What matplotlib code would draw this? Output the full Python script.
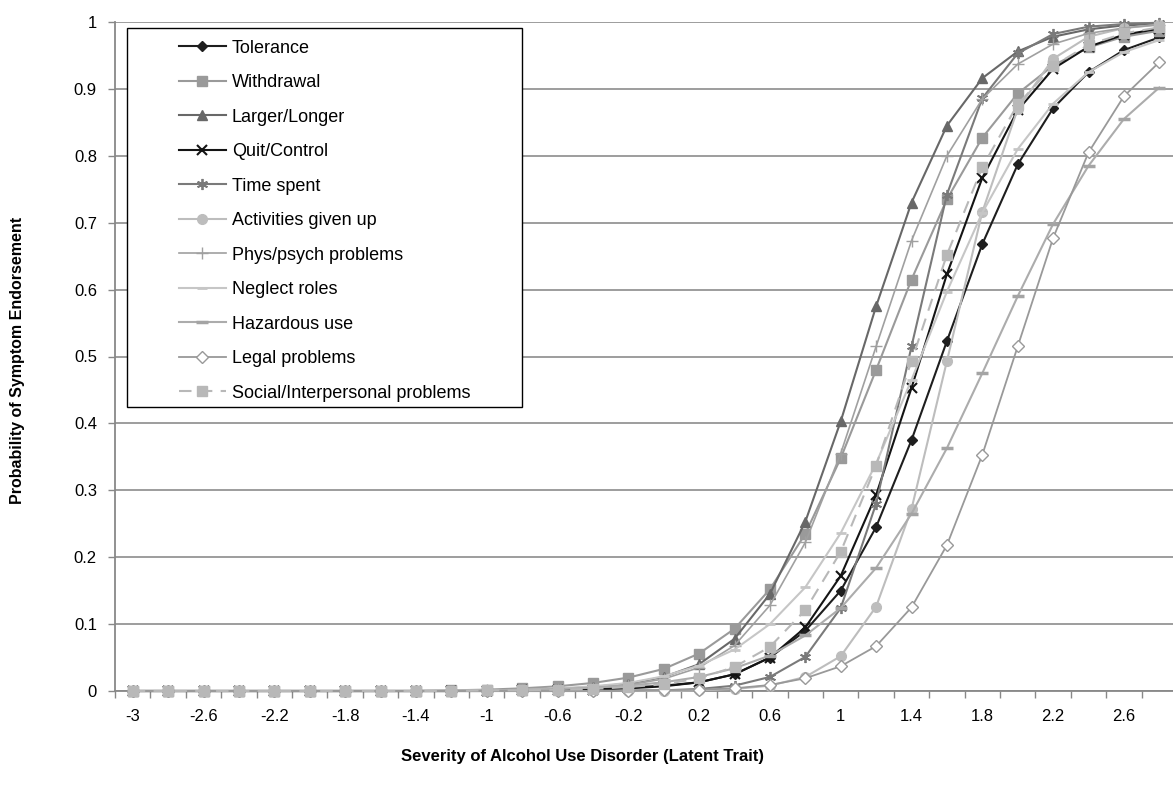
import matplotlib
matplotlib.use("Agg")
import matplotlib.pyplot as plt
from matplotlib.patches import Rectangle
import numpy as np

plt.rcParams['font.family'] = ['Liberation Sans', 'DejaVu Sans']

x_values = [-3.0, -2.8, -2.6, -2.4, -2.2, -2.0, -1.8, -1.6, -1.4, -1.2,
            -1.0, -0.8, -0.6, -0.4, -0.2, 0.0, 0.2, 0.4, 0.6, 0.8,
            1.0, 1.2, 1.4, 1.6, 1.8, 2.0, 2.2, 2.4, 2.6, 2.8]

tolerance = [0, 0, 0, 0, 0, 0, 0, 0, 0, 0,
             0.001, 0.001, 0.002, 0.003, 0.005, 0.008, 0.013, 0.025, 0.05, 0.09,
             0.15, 0.245, 0.375, 0.523, 0.668, 0.787, 0.871, 0.925, 0.958, 0.977]
withdrawal = [0, 0, 0, 0, 0, 0, 0, 0, 0, 0.001,
              0.002, 0.004, 0.007, 0.012, 0.02, 0.033, 0.056, 0.093, 0.152, 0.235,
              0.348, 0.48, 0.615, 0.735, 0.827, 0.893, 0.935, 0.962, 0.978, 0.987]
larger_longer = [0, 0, 0, 0, 0, 0, 0, 0, 0, 0,
                 0.001, 0.002, 0.003, 0.006, 0.011, 0.021, 0.04, 0.078, 0.145, 0.253,
                 0.403, 0.575, 0.73, 0.845, 0.916, 0.956, 0.978, 0.989, 0.995, 0.997]
quit_control = [0, 0, 0, 0, 0, 0, 0, 0, 0, 0,
                0, 0.001, 0.001, 0.002, 0.004, 0.007, 0.013, 0.025, 0.05, 0.095,
                0.172, 0.293, 0.453, 0.623, 0.767, 0.868, 0.93, 0.963, 0.981, 0.99]
time_spent = [0, 0, 0, 0, 0, 0, 0, 0, 0, 0,
              0, 0, 0, 0, 0.001, 0.001, 0.003, 0.008, 0.021, 0.051,
              0.124, 0.28, 0.515, 0.742, 0.886, 0.953, 0.982, 0.993, 0.997, 0.999]
activities = [0, 0, 0, 0, 0, 0, 0, 0, 0, 0,
              0, 0, 0, 0, 0, 0, 0.001, 0.003, 0.008, 0.021,
              0.052, 0.126, 0.272, 0.493, 0.716, 0.87, 0.945, 0.978, 0.991, 0.996]
phys_psych = [0, 0, 0, 0, 0, 0, 0, 0, 0, 0,
              0.001, 0.002, 0.003, 0.005, 0.009, 0.018, 0.035, 0.068, 0.128, 0.222,
              0.355, 0.515, 0.673, 0.8, 0.885, 0.937, 0.967, 0.983, 0.991, 0.996]
neglect_roles = [0, 0, 0, 0, 0, 0, 0, 0, 0, 0.001,
                 0.001, 0.002, 0.004, 0.007, 0.012, 0.022, 0.038, 0.062, 0.1, 0.155,
                 0.236, 0.34, 0.465, 0.597, 0.715, 0.81, 0.878, 0.925, 0.955, 0.973]
hazardous_use = [0, 0, 0, 0, 0, 0, 0, 0, 0, 0,
                 0.001, 0.002, 0.003, 0.005, 0.008, 0.013, 0.021, 0.034, 0.053, 0.083,
                 0.124, 0.184, 0.265, 0.363, 0.475, 0.59, 0.698, 0.785, 0.855, 0.902]
legal_problems = [0, 0, 0, 0, 0, 0, 0, 0, 0, 0,
                  0, 0, 0, 0, 0, 0.001, 0.002, 0.004, 0.009, 0.019,
                  0.037, 0.067, 0.125, 0.218, 0.353, 0.515, 0.677, 0.805, 0.889, 0.94]
social = [0, 0, 0, 0, 0, 0, 0, 0, 0, 0,
          0.001, 0.001, 0.002, 0.003, 0.006, 0.01, 0.019, 0.036, 0.066, 0.121,
          0.208, 0.337, 0.493, 0.652, 0.783, 0.877, 0.934, 0.966, 0.983, 0.992]

series_names = ["Tolerance", "Withdrawal", "Larger/Longer", "Quit/Control", "Time spent",
                "Activities given up", "Phys/psych problems", "Neglect roles",
                "Hazardous use", "Legal problems", "Social/Interpersonal problems"]
series_values = [tolerance, withdrawal, larger_longer, quit_control, time_spent,
                 activities, phys_psych, neglect_roles, hazardous_use, legal_problems, social]

y_ticks = [0, 0.1, 0.2, 0.3, 0.4, 0.5, 0.6, 0.7, 0.8, 0.9, 1]
y_tick_labels = ["0", "0.1", "0.2", "0.3", "0.4", "0.5", "0.6", "0.7", "0.8", "0.9", "1"]

styles = [
    dict(color="#1e1e1e", marker="D", ms=5, mfc="#1e1e1e", mec="#1e1e1e", ls="-", lw=1.5),
    dict(color="#9a9a9a", marker="s", ms=6.5, mfc="#9a9a9a", mec="#9a9a9a", ls="-", lw=1.5),
    dict(color="#686868", marker="^", ms=7, mfc="#686868", mec="#686868", ls="-", lw=1.5),
    dict(color="#141414", marker="x", ms=7, mfc="#141414", mec="#141414", mew=1.5, ls="-", lw=1.5),
    dict(color="#7a7a7a", marker=(6, 2, 0), ms=8, mec="#7a7a7a", mew=1.3, ls="-", lw=1.5),
    dict(color="#bdbdbd", marker="o", ms=7, mfc="#bdbdbd", mec="#bdbdbd", ls="-", lw=1.5),
    dict(color="#a0a0a0", marker="+", ms=8, mec="#a0a0a0", mew=1.0, ls="-", lw=1.2),
    dict(color="#c6c6c6", marker="_", ms=7, mec="#c6c6c6", mew=2.0, ls="-", lw=1.5),
    dict(color="#acacac", marker="_", ms=8, mec="#a4a4a4", mew=2.5, ls="-", lw=1.5),
    dict(color="#999999", marker="D", ms=6, mfc="white", mec="#999999", mew=1.0, ls="-", lw=1.3),
    dict(color="#b8b8b8", marker="s", ms=7, mfc="#b8b8b8", mec="#b8b8b8", ls=(0, (6, 4)), lw=1.5),
]

W, H = 1173, 792
fig = plt.figure(figsize=(W / 100, H / 100), dpi=100)
ax = fig.add_axes([115 / W, 101 / H, 1062 / W, 669 / H])

xi = np.arange(len(x_values))
handles = []
for name, vals, st in zip(series_names, series_values, styles):
    h, = ax.plot(xi, vals, label=name, clip_on=False, zorder=3, **st)
    handles.append(h)

ax.set_xlim(-0.5, len(x_values) - 0.5)
ax.set_ylim(0, 1)
ax.set_yticks(y_ticks)
ax.set_yticklabels(y_tick_labels)
major = xi[::2]
ax.set_xticks(major)
ax.set_xticklabels([f"{x_values[i]:g}" for i in major])
ax.set_xticks(np.arange(-0.5, len(x_values), 1.0), minor=True)
ax.tick_params(axis='x', which='major', length=0, pad=13, labelsize=12)
ax.tick_params(axis='x', which='minor', length=5, direction='out', color='#888888', width=1)
ax.tick_params(axis='y', which='major', length=5, direction='out', color='#888888', width=1,
               pad=8, labelsize=12)

ax.grid(axis='y', color='#8c8c8c', lw=1.2, zorder=0)
ax.set_axisbelow(True)
for s in ['top', 'right']:
    ax.spines[s].set_visible(False)
for s in ['left', 'bottom']:
    ax.spines[s].set_color('#888888')
    ax.spines[s].set_linewidth(1.3)

fig.text(18 / W, 1 - 360 / H, "Probability of Symptom Endorsement", rotation=90,
         ha='center', va='center', fontsize=11.5, fontweight='bold')
fig.text(401 / W, 1 - 757 / H, "Severity of Alcohol Use Disorder (Latent Trait)",
         ha='left', va='center', fontsize=12, fontweight='bold')

fig.patches.append(Rectangle((127 / W, 1 - 407 / H), (522 - 127) / W, (407 - 28) / H,
                             transform=fig.transFigure, fill=True, facecolor='white',
                             edgecolor='black', lw=1.0, zorder=4))
leg = fig.legend(handles=handles, loc='upper left', bbox_to_anchor=(166 / W, 1 - 27 / H),
                 frameon=False, fontsize=13, handlelength=2.6, handletextpad=0.35,
                 labelspacing=0.97, borderpad=0.2)
leg.set_zorder(5)

fig.savefig("out.png", dpi=100)
